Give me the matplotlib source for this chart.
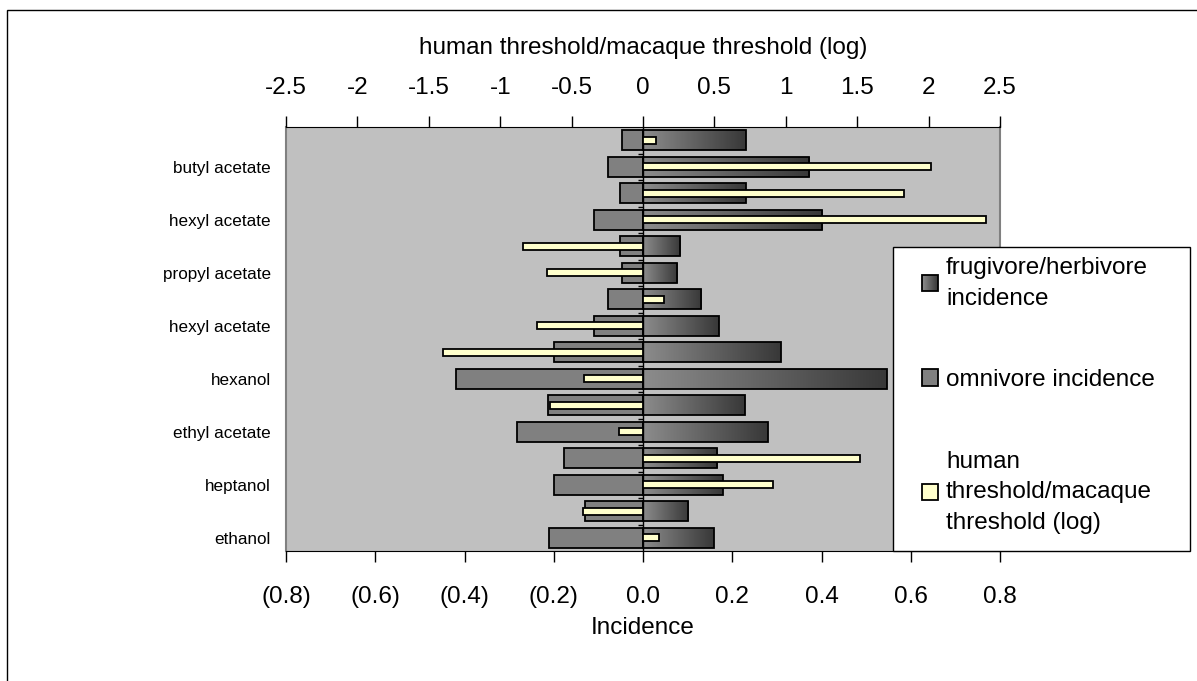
import numpy as np
import matplotlib.pyplot as plt
from matplotlib.colors import LinearSegmentedColormap
from matplotlib.patches import Rectangle, Patch
from matplotlib.legend_handler import HandlerBase

plt.rcParams['font.family'] = ['Liberation Sans', 'DejaVu Sans']

# rows listed top to bottom; Excel only printed every other category name
labels = ["", "butyl acetate", "", "hexyl acetate", "", "propyl acetate", "",
          "hexyl acetate", "", "hexanol", "", "ethyl acetate", "", "heptanol",
          "", "ethanol"]
frugivore = [0.230, 0.372, 0.230, 0.402, 0.084, 0.077, 0.131, 0.170,
             0.309, 0.546, 0.228, 0.279, 0.166, 0.179, 0.101, 0.159]
omnivore = [-0.046, -0.078, -0.051, -0.109, -0.051, -0.046, -0.078, -0.109,
            -0.199, -0.418, -0.214, -0.282, -0.176, -0.199, -0.131, -0.210]
human_log = [0.09, 2.02, 1.83, 2.40, -0.84, -0.67, 0.15, -0.74,
             -1.40, -0.41, -0.65, -0.17, 1.52, 0.91, -0.42, 0.11]

incidence_ticks = [-0.8, -0.6, -0.4, -0.2, 0.0, 0.2, 0.4, 0.6, 0.8]
log_ticks = [-2.5, -2, -1.5, -1, -0.5, 0, 0.5, 1, 1.5, 2, 2.5]

FS = 17.5
frug_cmap = LinearSegmentedColormap.from_list('frug', ['#8c8c8c', '#383838'])


class GradientHandler(HandlerBase):
    def create_artists(self, legend, orig_handle, xdescent, ydescent,
                       width, height, fontsize, trans):
        x0, y0 = -xdescent, -ydescent
        n = 16
        arts = []
        for i in range(n):
            arts.append(Rectangle((x0 + width * i / n, y0), width / n + 0.3, height,
                                  facecolor=frug_cmap(i / (n - 1)), edgecolor='none',
                                  antialiased=False, transform=trans))
        arts.append(Rectangle((x0, y0), width, height, facecolor='none',
                              edgecolor='black', lw=1.3, transform=trans))
        return arts


def fmt_incidence(v):
    if v < -1e-9:
        return "(%.1f)" % abs(v)
    return "%.1f" % abs(v)


y = np.arange(len(labels))

fig = plt.figure(figsize=(11.97, 6.81), dpi=100)
ax = fig.add_axes([286 / 1197, 1 - 551 / 681, 714 / 1197, 424 / 681])
ax.set_facecolor('#c0c0c0')

ax.barh(y, omnivore, height=0.75, color='#808080', edgecolor='black',
        linewidth=1.3, zorder=2)
frug_bars = ax.barh(y, frugivore, height=0.75, color='none', edgecolor='black',
                    linewidth=1.3, zorder=3)
grad = np.linspace(0, 1, 256).reshape(1, -1)
for bar in frug_bars:
    x0, y0, w, h = bar.get_x(), bar.get_y(), bar.get_width(), bar.get_height()
    im = ax.imshow(grad, cmap=frug_cmap, extent=(x0, x0 + w, y0, y0 + h),
                   aspect='auto', zorder=2.5, interpolation='bilinear')
    im.set_clip_path(bar)

ax.axvline(0, color='black', lw=1, zorder=4)
ax.hlines(y[:-1] + 0.5, -0.012, 0, color='black', lw=1, zorder=4)

ax.set_xticks(incidence_ticks)
ax.set_xticklabels([fmt_incidence(v) for v in incidence_ticks])
ax.set_yticks(y)
ax.set_yticklabels(labels, fontsize=12.3)
ax.tick_params(axis='y', length=0, pad=11)
ax.tick_params(axis='x', direction='out', length=8, width=1, pad=17, labelsize=FS)
ax.set_xlabel('Incidence', fontsize=FS, labelpad=7)
for s in ['left', 'right']:
    ax.spines[s].set_color('#808080')
    ax.spines[s].set_linewidth(1.5)
ax.spines['top'].set_visible(False)
ax.spines['bottom'].set_color('black')

ax2 = ax.twiny()
ax2.barh(y, human_log, height=0.25, color='#ffffcc', edgecolor='black',
         linewidth=1.3, zorder=3)
ax2.patch.set_visible(False)
ax2.set_xlim(-2.5, 2.5)
ax2.set_xticks(log_ticks)
ax2.set_xticklabels(["%g" % v for v in log_ticks])
ax2.tick_params(axis='x', direction='out', length=8, width=1, pad=12, labelsize=FS)
ax2.set_xlabel('human threshold/macaque threshold (log)', fontsize=FS, labelpad=17)
for s in ['left', 'right', 'bottom']:
    ax2.spines[s].set_visible(False)

ax.set_xlim(-0.8, 0.8)
ax.set_ylim(len(labels) - 0.5, -0.5)

# legend box
fig.add_artist(Rectangle((893 / 1197, 1 - 551 / 681), (1190 - 893) / 1197,
                         (551 - 247) / 681, transform=fig.transFigure,
                         facecolor='white', edgecolor='black', lw=1))
frug_proxy = Patch(facecolor='#606060', edgecolor='black')
omni_proxy = Patch(facecolor='#808080', edgecolor='black', lw=1.3)
human_proxy = Patch(facecolor='#ffffcc', edgecolor='black', lw=1.3)
leg = fig.legend([frug_proxy, omni_proxy, human_proxy],
                 ['frugivore/herbivore\nincidence', 'omnivore incidence',
                  'human\nthreshold/macaque\nthreshold (log)'],
                 loc='upper left', bbox_to_anchor=(922 / 1197, 1 - 257 / 681),
                 frameon=False, fontsize=FS, handlelength=0.66, handleheight=0.66,
                 handletextpad=0.33, labelspacing=2.45, borderpad=0, borderaxespad=0,
                 handler_map={frug_proxy: GradientHandler()})
for t in leg.get_texts():
    t.set_linespacing(1.5)

# outer chart border
fig.add_artist(Rectangle((7 / 1197, -0.1), 1.2, 1.1 - 10 / 681,
                         transform=fig.transFigure, fill=False,
                         edgecolor='black', lw=1))

fig.savefig('out.png', dpi=100)
